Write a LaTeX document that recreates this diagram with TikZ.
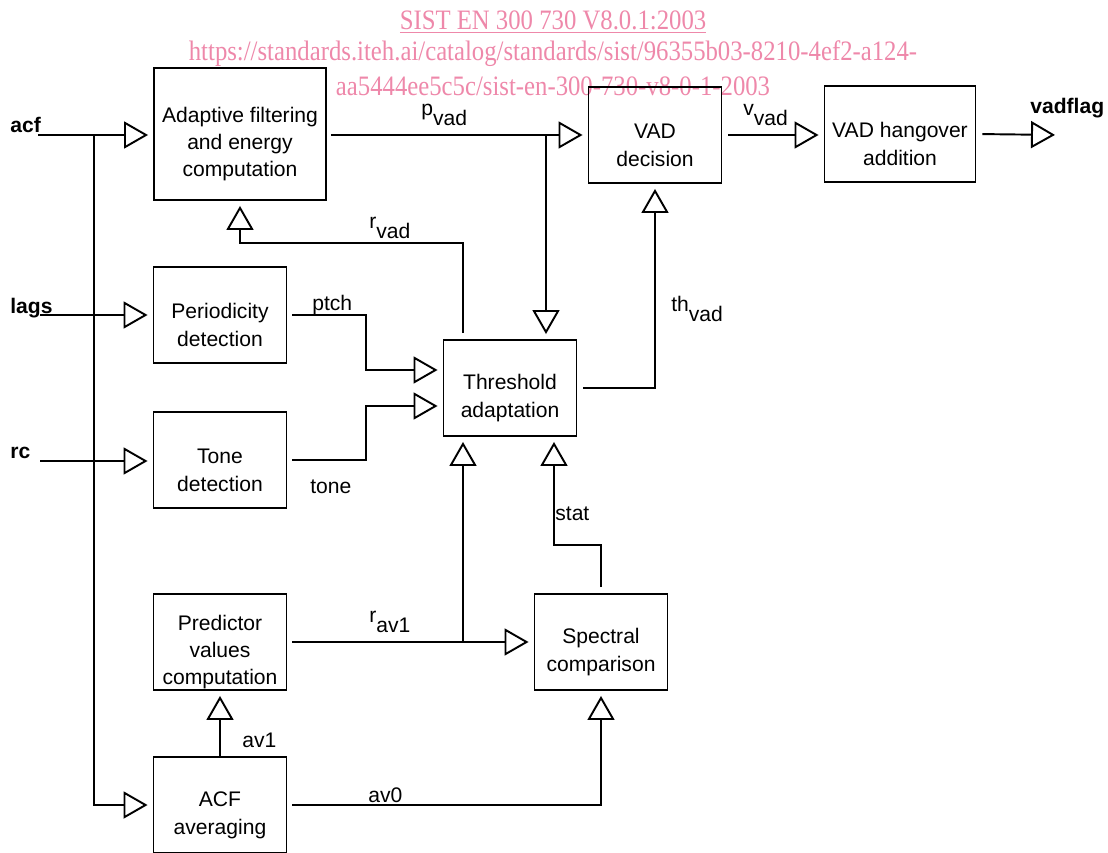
\documentclass[tikz,border=0pt]{standalone}
\usepackage{fontspec}
\setmainfont{Liberation Sans}
\newfontfamily\wmfont{Liberation Serif}
\usetikzlibrary{arrows.meta,positioning}
\definecolor{wmpink}{RGB}{238,136,170}
\newcommand{\lowsub}[1]{\raisebox{-6pt}{#1}}
\newcommand{\padtop}{\rule{0pt}{20pt}}
\begin{document}
\begin{tikzpicture}[
                    x=0.02cm, y=-0.02cm,
                    every node/.style={inner sep=0pt, font=\fontsize{12}{15.5}\selectfont},
                    block/.style={draw, line width=1.1pt, align=center, minimum width=2.66cm, minimum height=1.92cm},
                    link/.style={line width=1.1pt},
                    arr/.style={link, -{Triangle[open, length=0.48cm, width=0.54cm]}, shorten >=0.1cm},
                    lbl/.style={anchor=base west},
                    inlbl/.style={anchor=base west, font=\fontsize{12}{15.5}\selectfont\bfseries},
                    wm/.style={text=wmpink, font=\wmfont\fontsize{16}{18}\selectfont},
                ]
                \useasboundingbox (0,0) rectangle (1108,852);
                \node[wm] (wm1) at (553,22) {\scalebox{0.88}[1]{\underline{SIST EN 300 730 V8.0.1:2003}}};
                \node[wm] (wm2) at (553,54) {\scalebox{0.88}[1]{https://standards.iteh.ai/catalog/standards/sist/96355b03-8210-4ef2-a124-}};
                \node[wm] (wm3) at (553,86) {\scalebox{0.88}[1]{aa5444ee5c5c/sist-en-300-730-v8-0-1-2003}};
                \node[block, minimum width=3.44cm, minimum height=2.64cm] (adapt) at (240,134) {\padtop Adaptive filtering\\and energy\\computation};
                \node[block] (vaddec) at (655,135) {\padtop VAD\\decision};
                \node[block, minimum width=3.02cm] (hang) at (900,134) {\padtop VAD hangover\\addition};
                \node[block] (period) at (220,315) {\padtop Periodicity\\detection};
                \node[block] (thresh) at (510,388) {\padtop Threshold\\adaptation};
                \node[block] (tonedet) at (220,460) {\padtop Tone\\detection};
                \node[block] (pred) at (220,642) {\padtop Predictor\\values\\computation};
                \node[block] (spec) at (601,642) {\padtop Spectral\\comparison};
                \node[block] (acfavg) at (220,805) {\padtop ACF\\averaging};
                \coordinate (acfin) at (38,135);
                \coordinate (acfsplit) at (94,135);
                \coordinate (lagsin) at (40,315);
                \coordinate (rcin) at (40,461);
                \coordinate (vadout) at (1060,135);
                \coordinate (pvadsplit) at (546,135);
                \coordinate (rvad) at (463,243);
                \coordinate (bendx) at (366,0);
                \coordinate (ptchin) at ([yshift=0.36cm]thresh.west);
                \coordinate (tonein) at ([yshift=-0.36cm]thresh.west);
                \coordinate (rav1split) at (463,642);
                \coordinate (statbend) at (554,545);
                \node[inlbl] (acflbl) at (10,132) {acf};
                \node[inlbl] (lagslbl) at (10,313) {lags};
                \node[inlbl] (rclbl) at (10,458) {rc};
                \node[inlbl] (flaglbl) at (1030,113) {vadflag};
                \node[lbl] (pvadlbl) at (421,115) {p\lowsub{vad}};
                \node[lbl] (vvadlbl) at (743,115) {v\lowsub{vad}};
                \node[lbl] (rvadlbl) at (369,228) {r\lowsub{vad}};
                \node[lbl] (thvadlbl) at (671,311) {th\lowsub{vad}};
                \node[lbl] (ptchlbl) at (312,310) {ptch};
                \node[lbl] (tonelbl) at (310,493) {tone};
                \node[lbl] (rav1lbl) at (369,622) {r\lowsub{av1}};
                \node[lbl] (statlbl) at (555,520) {stat};
                \node[lbl] (av1lbl) at (242,747) {av1};
                \node[lbl] (av0lbl) at (368,802) {av0};
                \draw[arr] (acfin) -- (acfin -| adapt.west);
                \draw[arr] (acfsplit) |- (acfavg.west);
                \draw[arr] (lagsin) -- (lagsin -| period.west);
                \draw[arr] (rcin) -- (rcin -| tonedet.west);
                \draw[arr, shorten <=0.08cm] (adapt.east |- vaddec.west) -- (vaddec.west);
                \draw[arr] (pvadsplit) -- (pvadsplit |- thresh.north);
                \draw[arr, shorten <=0.12cm] (vaddec.east) -- (vaddec.east -| hang.west);
                \draw[arr, shorten <=0.12cm] (hang.east) -- (vadout);
                \draw[arr, shorten <=0.12cm] (rvad |- thresh.north) -- (rvad) -| (adapt.south);
                \draw[arr, shorten <=0.12cm] (thresh.east) -| (vaddec.south);
                \draw[arr, shorten <=0.1cm] (period.east) -- (period.east -| bendx) |- (ptchin);
                \draw[arr, shorten <=0.1cm] (tonedet.east) -- (tonedet.east -| bendx) |- (tonein);
                \draw[arr, shorten <=0.1cm] (pred.east) -- (spec.west);
                \draw[arr] (rav1split) -- (rav1split |- thresh.south);
                \draw[arr, shorten <=0.12cm] (spec.north) |- (statbend) -- (statbend |- thresh.south);
                \draw[arr] (acfavg.north) -- (pred.south);
                \draw[arr, shorten <=0.1cm] (acfavg.east) -| (spec.south);
                \end{tikzpicture}
\end{document}
